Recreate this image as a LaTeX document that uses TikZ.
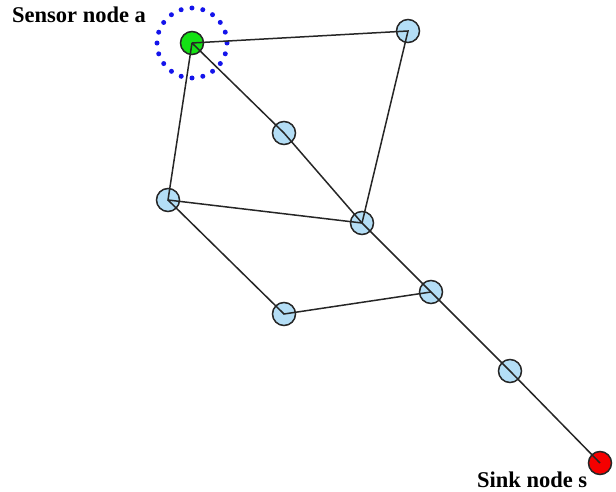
\documentclass[tikz,border=0pt]{standalone}
\usepackage{fontspec}
\setmainfont{Liberation Serif}
\usepackage{xcolor}
\definecolor{nodeblue}{RGB}{180,222,246}
\definecolor{sensorgreen}{RGB}{20,225,20}
\definecolor{sinkred}{RGB}{245,0,0}
\definecolor{rangeblue}{RGB}{20,20,235}

\begin{document}
\begin{tikzpicture}[x=1pt,y=-1pt,
	relay/.style={circle,draw=black!85,line width=1.5pt,fill=nodeblue,minimum size=23pt,inner sep=0pt},
	sensor/.style={relay,fill=sensorgreen},
	sink/.style={relay,fill=sinkred},
	link/.style={draw=black!85,line width=1.5pt},
	label/.style={font=\bfseries\fontsize{22.5}{26}\selectfont,inner sep=0pt,anchor=base west}]
	\useasboundingbox (0,0) rectangle (616,492);
	\draw[rangeblue,line width=5pt,line cap=round,dash pattern=on 0pt off 10.99pt] (192,43) circle [radius=35];
	\node[sensor] (a) at (192,43) {};
	\node[relay] (n1) at (408,31) {};
	\node[relay] (n2) at (284,133) {};
	\node[relay] (n3) at (168,200) {};
	\node[relay] (n4) at (362,223) {};
	\node[relay] (n5) at (431,292) {};
	\node[relay] (n6) at (284,314) {};
	\node[relay] (n7) at (510,371) {};
	\node[sink] (s) at (600,463) {};
	\draw[link] (a.center) -- (n1.center) -- (n4.center);
	\draw[link] (a.center) -- (n3.center) -- (n4.center);
	\draw[link] (n3.center) -- (n6.center) -- (n5.center);
	\draw[link] (a.center) -- (n2.center) -- (n4.center) -- (n5.center) -- (n7.center) -- (s.center);
	\node[label] (lsensor) at (12,23) {Sensor node a};
	\node[label] (lsink) at (477,487) {Sink node s};
\end{tikzpicture}
\end{document}
